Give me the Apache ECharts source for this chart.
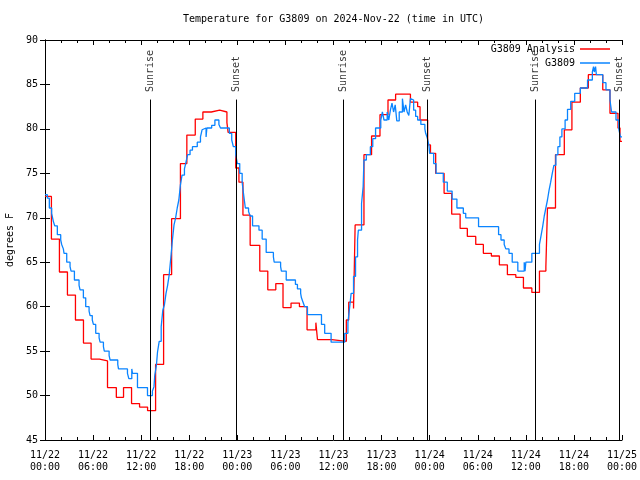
<!DOCTYPE html>
<html>
<head>
<meta charset="utf-8">
<script src="https://cdn.jsdelivr.net/npm/echarts@6/dist/echarts.min.js"></script>
<style>
html,body{margin:0;padding:0;background:#fff;}
#chart{width:640px;height:480px;}
</style>
</head>
<body>
<div id="chart"></div>
<script>
// Hours since 2024-11-22 00:00 UTC
const analysisHours = [0,0.8,1.8,2.8,3.8,4.8,5.75,6.8,7.8,8.9,9.8,10.8,11.8,12.8,13.8,14.8,15.8,16.9,17.7,18.75,19.7,20.75,21.8,22.7,22.85,23.8,24.2,24.7,25.6,26.8,27.8,28.8,29.7,30.7,31.75,32.7,33.8,34.0,35.8,37.6,37.9,38.5,38.7,39.8,40.75,41.8,42.8,43.75,45.6,46.5,46.8,47.75,48.1,48.75,49.8,50.75,51.8,52.7,53.75,54.7,55.7,56.7,57.7,58.75,59.7,60.75,61.7,62.5,62.7,63.7,64.8,65.75,66.8,67.8,69.6,70.5,71.5,71.75,72];
const analysisTemps = [72.4,67.6,63.9,61.3,58.5,55.9,54.1,53.9,50.9,49.8,50.9,49.1,48.7,48.3,53.5,63.6,69.9,76.1,79.3,81.1,81.9,82.1,81.9,80.7,79.6,75.6,74.0,70.3,66.9,64.0,61.9,62.6,59.9,60.4,60.0,57.4,58.2,56.3,56.1,58.5,60.5,59.8,69.2,77.1,79.2,81.6,83.25,83.9,83.0,82.5,81.0,78.2,77.25,75.0,72.75,70.4,68.8,67.9,67.0,66.0,65.7,64.7,63.6,63.3,62.1,61.6,64.0,64.5,71.1,77.1,79.9,83.0,84.6,86.1,84.4,81.75,80.1,78.6,78.6];

const obsHours = [0,0.29,0.54,0.83,0.92,1.04,1.21,1.54,1.96,2.08,2.29,2.375,2.71,3.125,3.25,3.67,4.25,4.375,4.79,5.08,5.5,5.625,5.9,6.04,6.33,6.75,6.875,7.29,7.4,8.0,8.125,9.08,9.17,10.29,10.46,10.83,10.92,11.54,12.79,13.4,13.6,13.7,13.9,14.04,14.25,14.5,14.7,14.9,15.1,15.3,15.5,15.7,15.9,16.1,16.3,16.5,16.7,16.9,17.1,17.4,17.6,17.8,18.1,18.4,19.0,19.4,19.6,19.8,20.1,20.2,20.8,21.2,21.7,21.9,23.0,23.3,23.5,23.8,24.0,24.3,24.6,24.8,25.0,25.4,25.6,25.9,26.7,27.1,27.6,28.5,28.6,29.4,29.5,30.1,31.25,31.5,31.9,32.0,32.2,32.4,32.75,34.5,34.9,35.7,37.4,37.8,38.0,38.2,38.5,38.75,39.0,39.1,39.5,39.7,39.8,40.1,40.6,40.9,41.25,41.9,42.1,42.3,42.7,42.9,43.1,43.3,43.5,43.7,43.9,44.2,44.6,44.8,45.0,45.2,45.4,45.6,45.8,46.0,46.25,46.5,46.9,47.4,47.5,47.7,47.9,48.0,48.5,48.8,49.7,50.2,50.8,51.4,52.2,52.5,54.1,56.6,56.9,57.3,57.5,57.9,58.3,59.0,59.8,59.9,60.0,60.75,61.7,61.9,62.1,62.3,62.5,62.7,62.9,63.1,63.3,63.5,63.75,64.0,64.25,64.5,64.9,65.2,65.6,66.1,66.8,67.7,68.3,68.45,68.55,68.7,68.8,69.6,70.0,70.5,70.7,71.25,71.6,71.8,72];
const obsTemps = [72.6,72.2,71.1,70.5,70.1,69.6,69.1,68.1,67.5,67.0,66.5,66.0,65.0,64.5,64.0,63.0,62.4,61.9,61.0,60.0,59.5,59.0,58.5,58.0,57.0,56.5,56.0,55.5,55.0,54.5,54.0,53.5,53.0,52.5,51.9,53.0,52.5,50.9,50.0,50.5,51.0,52.3,53.4,54.9,56.1,57.75,59.6,60.2,61.5,62.4,63.6,65.5,67.5,69.2,70.0,71.1,72.0,73.7,74.8,75.5,76.3,77.1,77.6,78.0,78.5,79.1,79.9,80.1,79.1,80.1,80.4,81.0,80.5,80.1,79.5,78.75,78.0,77.1,76.1,75.0,74.0,72.5,71.1,70.7,70.2,69.1,68.6,67.6,66.1,65.6,65.0,64.5,64.0,63.0,62.5,62.0,61.5,61.0,60.5,60.0,59.1,58.0,57.0,56.0,57.0,58.2,59.8,61.5,63.4,65.6,67.5,68.6,71.6,73.5,76.5,77.1,78.0,78.9,80.1,81.0,81.9,81.0,81.9,81.0,82.1,82.9,81.9,82.7,80.9,81.9,83.4,81.9,82.7,81.9,81.5,83.4,83.25,82.1,81.4,81.0,80.5,80.0,79.5,79.0,78.2,77.25,76.1,75.0,74.0,73.0,72.1,71.1,70.5,70.0,69.0,68.1,67.5,67.0,66.5,66.0,65.0,64.0,65.0,64.0,65.0,66.0,67.0,68.0,69.0,70.2,71.1,72.0,73.1,74.0,75.0,75.9,77.1,78.0,79.1,80.0,81.0,82.2,83.1,84.0,84.6,85.5,86.4,87.0,86.4,87.0,86.1,85.2,84.4,83.25,81.9,81.0,80.0,79.1,79.1];

const sunTimes = [13.1, 23.85, 37.2, 47.72, 61.2, 71.7];
const sunLabels = ['Sunrise','Sunset','Sunrise','Sunset','Sunrise','Sunset'];

const tickDates = ['11/22','11/22','11/22','11/22','11/23','11/23','11/23','11/23','11/24','11/24','11/24','11/24','11/25'];
const tickTimes = ['00:00','06:00','12:00','18:00','00:00','06:00','12:00','18:00','00:00','06:00','12:00','18:00','00:00'];

const FONT = 'DejaVu Sans Mono';
const zip = (a, b) => a.map((v, i) => [v, b[i]]);

const chart = echarts.init(document.getElementById('chart'), null, {renderer: 'canvas'});

const axisCommon = {
  axisLine: {show: true, lineStyle: {color: '#000', width: 1}},
  axisTick: {show: true, inside: true, length: 5, lineStyle: {color: '#000'}},
  splitLine: {show: false}
};

chart.setOption({
  animation: false,
  backgroundColor: '#fff',
  title: {
    text: 'Temperature for G3809 on 2024-Nov-22 (time in UTC)',
    left: 183, top: 14, padding: 0,
    textStyle: {fontFamily: FONT, fontSize: 10, fontWeight: 'normal', color: '#000'}
  },
  legend: {
    orient: 'vertical', right: 30, top: 43, align: 'right', padding: 0,
    icon: 'rect', itemWidth: 30, itemHeight: 1.5, itemGap: 2,
    textStyle: {fontFamily: FONT, fontSize: 10, color: '#000', lineHeight: 12},
    data: [
      {name: 'G3809 Analysis', itemStyle: {color: '#ff0000'}},
      {name: 'G3809', itemStyle: {color: '#0a84ff'}}
    ]
  },
  grid: {left: 45, right: 18, top: 40, bottom: 40, containLabel: false, outerBoundsMode: 'none'},
  xAxis: [
    Object.assign({}, axisCommon, {
      type: 'value', min: 0, max: 72, interval: 6, position: 'bottom',
      minorTick: {show: true, splitNumber: 3, length: 3, lineStyle: {color: '#000'}},
      axisLabel: {
        fontFamily: FONT, fontSize: 10, color: '#000', margin: 9, lineHeight: 12,
        formatter: v => { const i = Math.round(v / 6); return tickDates[i] + '\n' + tickTimes[i]; }
      }
    }),
    Object.assign({}, axisCommon, {
      type: 'value', min: 0, max: 72, interval: 6, position: 'top',
      minorTick: {show: true, splitNumber: 3, length: 3, lineStyle: {color: '#000'}},
      axisLabel: {show: false}
    })
  ],
  yAxis: [
    Object.assign({}, axisCommon, {
      type: 'value', min: 45, max: 90, interval: 5, position: 'left',
      name: 'degrees F', nameLocation: 'middle', nameGap: 30, nameRotate: 90,
      nameTextStyle: {fontFamily: FONT, fontSize: 10, color: '#000'},
      axisLabel: {fontFamily: FONT, fontSize: 10, color: '#000', margin: 7}
    }),
    Object.assign({}, axisCommon, {
      type: 'value', min: 45, max: 90, interval: 5, position: 'right',
      axisLabel: {show: false}
    })
  ],
  series: [
    {
      name: 'sun', type: 'line', data: [], silent: true,
      markLine: {
        silent: true, symbol: ['none', 'none'], animation: false,
        label: {show: false},
        lineStyle: {color: '#000', width: 1, type: 'solid'},
        data: sunTimes.map(t => [{coord: [t, 45]}, {coord: [t, 83.3]}])
      }
    },
    {
      name: 'sunLabels', type: 'scatter', symbolSize: 0, silent: true,
      data: sunTimes.map((t, i) => ({value: [t, 84.15], name: sunLabels[i]})),
      label: {
        show: true, position: 'inside', rotate: 90, align: 'left', verticalAlign: 'middle',
        formatter: p => p.name,
        fontFamily: FONT, fontSize: 10, color: '#000'
      }
    },
    {
      name: 'G3809 Analysis', type: 'line', step: 'end', symbol: 'none',
      data: zip(analysisHours, analysisTemps),
      lineStyle: {color: '#ff0000', width: 1.3},
      itemStyle: {color: '#ff0000'}
    },
    {
      name: 'G3809', type: 'line', step: 'end', symbol: 'none',
      data: zip(obsHours, obsTemps),
      lineStyle: {color: '#0a84ff', width: 1.3},
      itemStyle: {color: '#0a84ff'}
    }
  ]
});
</script>
</body>
</html>
